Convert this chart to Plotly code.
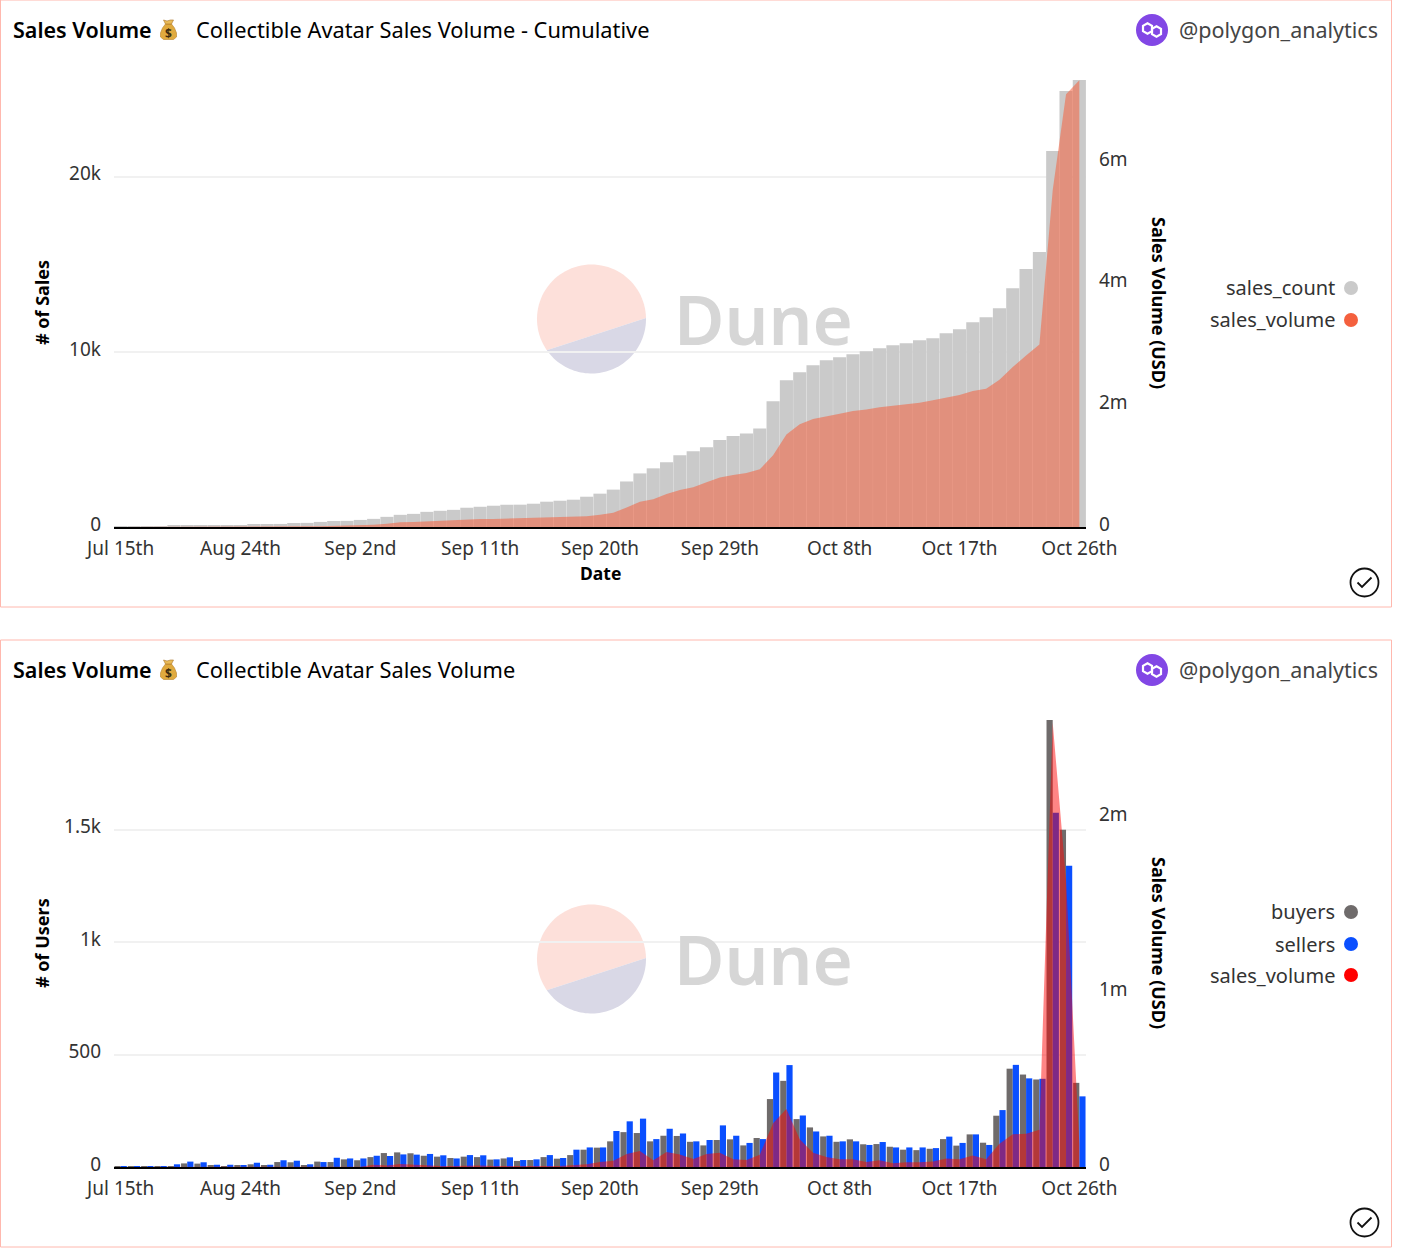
import math
import plotly.graph_objects as go

W, H = 1410, 1256

dates = ["Jul 15th", "Jul 25th", "Jul 31st", "Aug 4th", "Aug 9th", "Aug 12th", "Aug 15th", "Aug 18th", "Aug 21st",
         "Aug 24th", "Aug 25th", "Aug 26th", "Aug 27th", "Aug 28th", "Aug 29th", "Aug 30th", "Aug 31st",
         "Sep 1st", "Sep 2nd", "Sep 3rd", "Sep 4th", "Sep 5th", "Sep 6th", "Sep 7th", "Sep 8th", "Sep 9th", "Sep 10th",
         "Sep 11th", "Sep 12th", "Sep 13th", "Sep 14th", "Sep 15th", "Sep 16th", "Sep 17th", "Sep 18th", "Sep 19th", "Sep 20th",
         "Sep 21st", "Sep 22nd", "Sep 23rd", "Sep 24th", "Sep 25th", "Sep 26th", "Sep 27th", "Sep 28th", "Sep 29th", "Sep 30th",
         "Oct 1st", "Oct 2nd", "Oct 3rd", "Oct 4th", "Oct 5th", "Oct 6th", "Oct 7th", "Oct 8th", "Oct 9th", "Oct 10th",
         "Oct 11th", "Oct 12th", "Oct 13th", "Oct 14th", "Oct 15th", "Oct 16th", "Oct 17th", "Oct 18th", "Oct 19th", "Oct 20th",
         "Oct 21st", "Oct 22nd", "Oct 23rd", "Oct 24th", "Oct 25th", "Oct 26th"]

sales_count = [5, 10, 15, 20, 60, 60, 100, 100, 100, 100, 170, 170, 175, 230, 235, 290, 345, 350, 405, 465,
               580, 695, 750, 865, 925, 980, 1100, 1155, 1215, 1270, 1275, 1330, 1445, 1500, 1560, 1730, 1905,
               2135, 2600, 3060, 3350, 3700, 4100, 4330, 4560, 4970, 5200, 5334, 5620, 7180, 8380, 8840, 9240,
               9525, 9700, 9870, 10040, 10210, 10380, 10500, 10670, 10780, 11070, 11300, 11700, 11980, 12500,
               13640, 14730, 15700, 21470, 24900, 25530]

cum_volume = [0, 0, 0, 0, 0, 0, 1000, 2000, 3000, 5000, 6000, 7000, 8000, 9000, 11000, 13000, 17000, 20000, 22000, 35000,
              55000, 78000, 83000, 94000, 105000, 111000, 122000, 133000, 133000, 139000, 139000, 144000, 150000,
              155000, 161000, 177000, 200000, 233000, 321000, 416000, 455000, 543000, 610000, 654000, 737000,
              815000, 854000, 888000, 948000, 1179000, 1519000, 1688000, 1776000, 1826000, 1864000, 1908000,
              1930000, 1968000, 1990000, 2017000, 2045000, 2083000, 2127000, 2171000, 2237000, 2275000, 2423000,
              2631000, 2818000, 2999000, 5537000, 7116000, 7346000]

buyers = [2, 2, 2, 2, 2, 16, 15, 7, 4, 6, 12, 7, 22, 21, 7, 24, 22, 34, 30, 44, 62, 65, 61, 50, 46, 40, 46, 44, 33, 38,
          27, 31, 44, 37, 53, 77, 86, 114, 155, 151, 114, 139, 138, 112, 96, 120, 123, 96, 129, 302, 383, 213, 176,
          136, 112, 123, 101, 102, 90, 77, 75, 81, 124, 95, 145, 108, 228, 437, 411, 389, 1987, 1499, 374]

sellers = [2, 2, 2, 2, 12, 24, 21, 10, 10, 6, 19, 10, 30, 28, 12, 22, 41, 38, 38, 50, 49, 56, 55, 58, 52, 38, 53, 52, 34,
           43, 31, 34, 53, 40, 77, 87, 87, 160, 203, 215, 124, 170, 149, 114, 120, 185, 139, 107, 124, 420, 453, 229,
           158, 139, 114, 114, 98, 111, 87, 87, 87, 84, 135, 107, 145, 98, 253, 454, 394, 392, 1575, 1339, 314]

daily_volume = [0, 0, 0, 0, 0, 0, 1000, 1000, 1000, 2000, 1000, 1000, 1000, 1000, 2000, 2000, 4000, 3000, 2000, 13000,
                8000, 17000, 13000, 8000, 6000, 6000, 9000, 9000, 5000, 6000, 3000, 5000, 6000, 5000, 9000, 16000,
                29000, 36000, 74000, 91000, 38000, 86000, 72000, 46000, 74000, 82000, 44000, 40000, 70000, 250000,
                331000, 158000, 82000, 57000, 44000, 44000, 29000, 38000, 21000, 27000, 27000, 32000, 48000, 44000,
                65000, 44000, 133000, 187000, 190000, 213000, 2538000, 1640000, 130000]

FONT = "Noto Sans"
INK = "#333333"


def fx(p):
    return p / W


def fy(p):
    return 1 - p / H


def poly(points):
    return "M" + " L".join(f"{fx(a):.5f},{fy(b):.5f}" for a, b in points) + " Z"


def open_path(points):
    return "M" + " L".join(f"{fx(a):.5f},{fy(b):.5f}" for a, b in points)


def circle(cx, cy, r, **kw):
    return dict(type="circle", xref="paper", yref="paper", x0=fx(cx - r), x1=fx(cx + r), y0=fy(cy + r), y1=fy(cy - r), **kw)


def text(x, y, s, size=18, color=INK, anchor="left", weight=400, angle=0):
    return dict(xref="paper", yref="paper", x=fx(x), y=fy(y), text=s, showarrow=False, xanchor=anchor, yanchor="middle",
                align=anchor, textangle=angle, font=dict(family=FONT, size=size, color=color, weight=weight))


def axis_x(anchor):
    return dict(type="category", range=[-0.5, 72.5], domain=[fx(114), fx(1086)], anchor=anchor, tickmode="linear", tick0=0,
                dtick=9, showgrid=False, showline=True, linecolor="#000000", linewidth=1.5, ticks="", automargin=False,
                ticklabelstandoff=3, tickangle=0, tickfont=dict(family=FONT, size=19, color=INK), zeroline=False)


def axis_left(top, bottom, ymax, vals, labels):
    return dict(domain=[fy(bottom), fy(top)], range=[0, ymax], tickmode="array", tickvals=vals, ticktext=labels,
                showgrid=True, gridcolor="#f1f1f1", gridwidth=1.5, zeroline=False, showline=False, ticks="",
                automargin=False, ticklabelstandoff=12, ticklabelshift=-3, tickfont=dict(family=FONT, size=19, color=INK))


def axis_right(over, ymax, vals, labels, anchor):
    return dict(overlaying=over, side="right", range=[0, ymax], tickmode="array", tickvals=vals, ticktext=labels,
                anchor=anchor, showgrid=False, zeroline=False, showline=False, ticks="", ticklabelstandoff=12,
                automargin=False, ticklabelshift=-3, tickfont=dict(family=FONT, size=19, color=INK))


traces = [
    go.Bar(name="sales_count", x=dates, y=sales_count, marker=dict(color="#cacaca", line_width=0), xaxis="x", yaxis="y",
           width=0.985, showlegend=False),
    go.Scatter(name="sales_volume", x=dates, y=cum_volume, mode="lines", line=dict(width=0, color="#f4603e"),
               fill="tozeroy", fillcolor="rgba(244,96,62,0.55)", xaxis="x", yaxis="y2", showlegend=False),
    go.Bar(name="buyers", x=dates, y=buyers, marker=dict(color="#6f6b6b", line_width=0), xaxis="x2", yaxis="y3",
           offsetgroup="a", showlegend=False),
    go.Bar(name="sellers", x=dates, y=sellers, marker=dict(color="#0a4fff", line_width=0), xaxis="x2", yaxis="y3",
           offsetgroup="b", showlegend=False),
    go.Scatter(name="sales_volume", x=dates, y=daily_volume, mode="lines", line=dict(width=0, color="#ff0000"),
               fill="tozeroy", fillcolor="rgba(255,0,0,0.48)", xaxis="x2", yaxis="y4", showlegend=False),
]

shapes = []
annotations = []


def watermark(dy):
    cx, cy, r = 591.5, 319 + dy, 54.5
    a0 = math.atan2((318 + dy) - cy, 646 - cx)
    a1 = math.atan2((350 + dy) - cy, 547 - cx)
    n = 60
    up = [(cx + r * math.cos(a0 - (a0 - (a1 - 2 * math.pi)) * k / n), cy + r * math.sin(a0 - (a0 - (a1 - 2 * math.pi)) * k / n))
          for k in range(n + 1)]
    low = [(cx + r * math.cos(a0 + (a1 - a0) * k / n), cy + r * math.sin(a0 + (a1 - a0) * k / n)) for k in range(n + 1)]
    shapes.append(dict(type="path", xref="paper", yref="paper", path=poly(up), fillcolor="#fde0da", line_width=0, layer="below"))
    shapes.append(dict(type="path", xref="paper", yref="paper", path=poly(low), fillcolor="#d9d8e6", line_width=0, layer="below"))
    annotations.append(text(672, 318 + dy, "Dune", size=69, color="#d6d6d6", weight=600))


def money_bag(cy):
    cx = 168.5
    body = [(cx - 3, cy - 6), (cx + 3, cy - 6), (cx + 6, cy - 2), (cx + 8, cy + 3), (cx + 8, cy + 7), (cx + 5, cy + 9.5),
            (cx - 5, cy + 9.5), (cx - 8, cy + 7), (cx - 8, cy + 3), (cx - 6, cy - 2)]
    top = [(cx - 5, cy - 10), (cx - 1.5, cy - 9), (cx + 2, cy - 10), (cx + 5, cy - 10), (cx + 3, cy - 6), (cx - 3, cy - 6)]
    shapes.append(dict(type="path", xref="paper", yref="paper", path=poly(body), fillcolor="#e0aa3e", line=dict(color="#b9812a", width=0.6)))
    shapes.append(dict(type="path", xref="paper", yref="paper", path=poly(top), fillcolor="#e9bb58", line=dict(color="#a9742a", width=0.6)))
    annotations.append(text(cx, cy + 3, "$", size=12, color="#3d2c10", anchor="center", weight=700))


def polygon_logo(cy):
    cx = 1152
    shapes.append(circle(cx, cy, 16, fillcolor="#8247e5", line_width=0))
    for hx, hy in ((cx - 4.5, cy - 1.5), (cx + 4.5, cy + 1.5)):
        hexagon = [(hx + 5.2 * math.cos(math.radians(a)), hy + 5.2 * math.sin(math.radians(a))) for a in range(30, 360, 60)]
        shapes.append(dict(type="path", xref="paper", yref="paper", path=poly(hexagon), line=dict(color="#ffffff", width=2.2)))


def check(cy):
    cx = 1364.5
    shapes.append(circle(cx, cy, 14, fillcolor="rgba(0,0,0,0)", line=dict(color="#111111", width=1.8)))
    shapes.append(dict(type="path", xref="paper", yref="paper",
                       path=open_path([(cx - 7, cy), (cx - 2.5, cy + 4.5), (cx + 7, cy - 5)]),
                       line=dict(color="#111111", width=1.8)))


def legend(rows):
    for name, y, color in rows:
        annotations.append(text(1336.5, y, name, size=20, color=INK, anchor="right"))
        shapes.append(circle(1351, y, 7, fillcolor=color, line_width=0))


def card(top, bottom, subtitle):
    shapes.append(dict(type="rect", xref="paper", yref="paper", x0=fx(0.5), x1=fx(1391.5), y0=fy(bottom), y1=fy(top),
                       line=dict(color="#ffb8ae", width=1), fillcolor="rgba(0,0,0,0)", layer="below"))
    cy = top + 29
    annotations.append(text(11, cy, "Sales Volume", size=21.5, color="#000000", weight=600))
    annotations.append(text(194, cy, subtitle, size=21.8, color="#000000"))
    annotations.append(text(1177, cy, "@polygon_analytics", size=21.5, color="#444444"))
    money_bag(top + 30)
    polygon_logo(top + 30)
    check(top + 582.5)


card(0, 607, "Collectible Avatar Sales Volume - Cumulative")
card(640, 1247, "Collectible Avatar Sales Volume")
watermark(0)
watermark(640)
legend([("sales_count", 288, "#cacaca"), ("sales_volume", 320, "#f4603e")])
legend([("buyers", 912, "#6f6b6b"), ("sellers", 944, "#0a4fff"), ("sales_volume", 975, "#ff0000")])
annotations.append(text(1159, 303, "Sales Volume (USD)", size=18, color="#000000", anchor="center", weight=700, angle=90))
annotations.append(text(1159, 943, "Sales Volume (USD)", size=18, color="#000000", anchor="center", weight=700, angle=90))
annotations.append(text(42, 303, "# of Sales", size=18, color="#000000", anchor="center", weight=700, angle=-90))
annotations.append(text(42, 943, "# of Users", size=18, color="#000000", anchor="center", weight=700, angle=-90))
annotations.append(text(600, 573, "Date", size=17.5, color="#000000", anchor="center", weight=700))

fig = go.Figure(traces)
fig.update_layout(
    width=W, height=H, margin=dict(l=0, r=0, t=0, b=0), autosize=False,
    paper_bgcolor="#ffffff", plot_bgcolor="rgba(0,0,0,0)", barmode="group", bargap=0.07, bargroupgap=0,
    showlegend=False, shapes=shapes, annotations=annotations, font=dict(family=FONT),
    xaxis=axis_x("y"),
    yaxis=axis_left(80, 527, 25530, [0, 10000, 20000], ["0", "10k", "20k"]),
    yaxis2=axis_right("y", 7350000, [0, 2000000, 4000000, 6000000], ["0", "2m", "4m", "6m"], "x"),
    xaxis2=axis_x("y3"),
    yaxis3=axis_left(720, 1167, 1987, [0, 500, 1000, 1500], ["0", "500", "1k", "1.5k"]),
    yaxis4=axis_right("y3", 2554000, [0, 1000000, 2000000], ["0", "1m", "2m"], "x2"),
)
fig.write_html("out.html", config={"displayModeBar": False}, post_script="document.body.style.margin='0';")
